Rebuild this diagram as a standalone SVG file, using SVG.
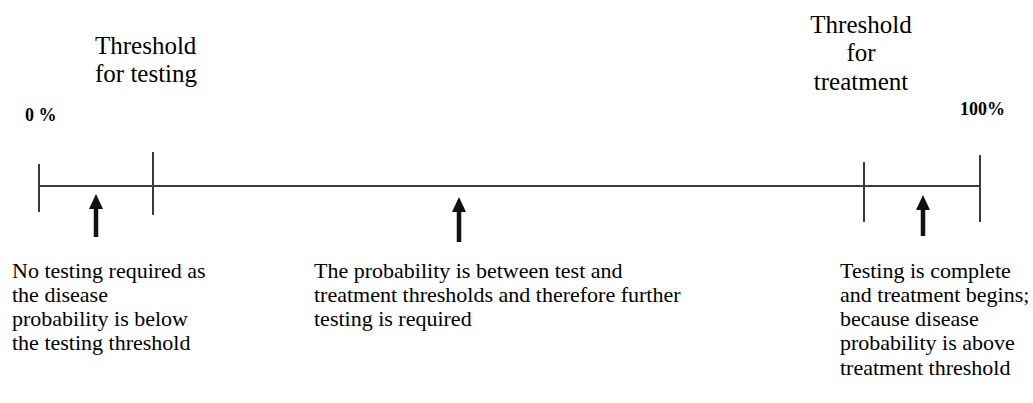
<svg xmlns="http://www.w3.org/2000/svg" width="1033" height="403" viewBox="0 0 1033 403">
<style>
.ln{stroke:#3a3a3a;stroke-width:2;fill:none}
.ar{stroke:#111;stroke-width:4.5;fill:none}
</style>
<defs>
<marker id="ah" viewBox="0 0 15 14" refX="0" refY="7" markerWidth="15" markerHeight="14" orient="auto" markerUnits="userSpaceOnUse">
<path d="M0,0 L15,7 L0,14 Z" fill="#111"/>
</marker>
</defs>
<rect width="1033" height="403" fill="#fff"/>
<g id="scale">
<line class="ln" x1="39" y1="186" x2="980" y2="186"/>
<line class="ln" x1="39" y1="164" x2="39" y2="212"/>
<line class="ln" x1="153" y1="152" x2="153" y2="215"/>
<line class="ln" x1="864" y1="162" x2="864" y2="222"/>
<line class="ln" x1="980" y1="155" x2="980" y2="222"/>
</g>
<g id="connectors">
<line class="ar" x1="96" y1="237" x2="96" y2="209" marker-end="url(#ah)"/>
<line class="ar" x1="459" y1="242" x2="459" y2="212" marker-end="url(#ah)"/>
<line class="ar" x1="923" y1="236" x2="923" y2="210" marker-end="url(#ah)"/>
</g>
<g id="label-threshold-testing">
<text x="95" y="54" font-family="Liberation Serif" font-size="25">Threshold</text>
<text x="95" y="82" font-family="Liberation Serif" font-size="25">for testing</text>
</g>
<g id="label-threshold-treatment">
<text x="861" y="33" font-family="Liberation Serif" font-size="25" text-anchor="middle">Threshold</text>
<text x="861" y="61" font-family="Liberation Serif" font-size="25" text-anchor="middle">for</text>
<text x="861" y="90" font-family="Liberation Serif" font-size="25" text-anchor="middle">treatment</text>
</g>
<g id="label-0">
<text x="25" y="121" font-family="Liberation Serif" font-size="18" font-weight="bold">0 %</text>
</g>
<g id="label-100">
<text x="960" y="115" font-family="Liberation Serif" font-size="18" font-weight="bold">100%</text>
</g>
<g id="note-left">
<text x="12" y="278" font-family="Liberation Serif" font-size="22">No testing required as</text>
<text x="12" y="302" font-family="Liberation Serif" font-size="22">the disease</text>
<text x="12" y="326" font-family="Liberation Serif" font-size="22">probability is below</text>
<text x="12" y="350" font-family="Liberation Serif" font-size="22">the testing threshold</text>
</g>
<g id="note-middle">
<text x="314" y="278" font-family="Liberation Serif" font-size="22">The probability is between test and</text>
<text x="314" y="302" font-family="Liberation Serif" font-size="22">treatment thresholds and therefore further</text>
<text x="314" y="326" font-family="Liberation Serif" font-size="22">testing is required</text>
</g>
<g id="note-right">
<text x="840" y="278" font-family="Liberation Serif" font-size="22">Testing is complete</text>
<text x="840" y="302" font-family="Liberation Serif" font-size="22">and treatment begins;</text>
<text x="840" y="326" font-family="Liberation Serif" font-size="22">because disease</text>
<text x="840" y="350" font-family="Liberation Serif" font-size="22">probability is above</text>
<text x="840" y="375" font-family="Liberation Serif" font-size="22">treatment threshold</text>
</g>
</svg>
